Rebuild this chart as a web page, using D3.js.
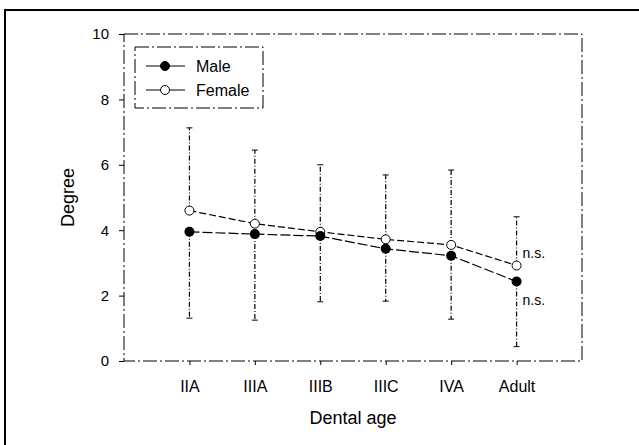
<!DOCTYPE html>
<html>
<head>
<meta charset="utf-8">
<script src="https://cdn.jsdelivr.net/npm/d3@7"></script>
<style>
  body { margin: 0; background: #fff; }
  text { font-family: "Liberation Sans", Arial, sans-serif; fill: #000; }
</style>
</head>
<body>
<div id="chart"></div>
<script>
// Data
const categories = ["IIA", "IIIA", "IIIB", "IIIC", "IVA", "Adult"];
const maleMean = [3.95, 3.88, 3.82, 3.43, 3.22, 2.43];
const maleLow = [1.31, 1.25, 1.81, 1.83, 1.28, 0.44];      // mean - SD
const femaleMean = [4.6, 4.2, 3.95, 3.72, 3.55, 2.92];
const femaleHigh = [7.13, 6.45, 6.0, 5.69, 5.84, 4.41];    // mean + SD
const yTicks = [0, 2, 4, 6, 8, 10];

let width = 639, height = 445;
let margin = { top: 34, right: 57, bottom: 84, left: 124 };
let innerW = width - margin.left - margin.right;
let innerH = height - margin.top - margin.bottom;

let svg = d3.select("#chart").append("svg")
    .attr("width", width)
    .attr("height", height);

// outer frame (runs off the right and bottom edges)
svg.append("rect")
    .attr("x", 5).attr("y", 10)
    .attr("width", 700).attr("height", 500)
    .attr("fill", "none")
    .attr("stroke", "#000")
    .attr("stroke-width", 2);

let g = svg.append("g")
    .attr("transform", `translate(${margin.left},${margin.top})`);

// scales: categories sit at 1..6 on a 0..7 axis
let x = d3.scaleLinear().domain([0, categories.length + 1]).range([0, innerW]);
let y = d3.scaleLinear().domain([0, 10]).range([innerH, 0]);

// plot frame
g.append("rect")
    .attr("width", innerW).attr("height", innerH)
    .attr("fill", "none")
    .attr("stroke", "#000")
    .attr("stroke-width", 1)
    .attr("stroke-dasharray", "14,3,2,3");

// axes
let yAxis = g.append("g")
    .call(d3.axisLeft(y).tickValues(yTicks).tickSize(5).tickPadding(10));
yAxis.select(".domain").remove();
yAxis.selectAll("text").style("font-size", "15px");

let xAxis = g.append("g")
    .attr("transform", `translate(0,${innerH})`)
    .call(d3.axisBottom(x)
        .tickValues(d3.range(1, categories.length + 1))
        .tickFormat(i => categories[i - 1])
        .tickSize(4).tickPadding(16));
xAxis.select(".domain").remove();
xAxis.selectAll("text").style("font-size", "16px");

// axis titles
g.append("text")
    .attr("x", innerW / 2)
    .attr("y", innerH + 63)
    .attr("text-anchor", "middle")
    .style("font-size", "18px")
    .text("Dental age");

g.append("text")
    .attr("transform", "rotate(-90)")
    .attr("x", -innerH / 2)
    .attr("y", -50)
    .attr("text-anchor", "middle")
    .style("font-size", "18px")
    .text("Degree");

let idx = d3.range(categories.length);

// error bars: female upward, male downward
g.selectAll(".err-f").data(idx).enter().append("line")
    .attr("class", "err-f")
    .attr("x1", i => x(i + 1)).attr("x2", i => x(i + 1))
    .attr("y1", i => y(femaleMean[i])).attr("y2", i => y(femaleHigh[i]))
    .attr("stroke", "#000").attr("stroke-width", 1.2)
    .attr("stroke-dasharray", "5,2,1,2");

g.selectAll(".cap-f").data(idx).enter().append("line")
    .attr("class", "cap-f")
    .attr("x1", i => x(i + 1) - 3).attr("x2", i => x(i + 1) + 3)
    .attr("y1", i => y(femaleHigh[i])).attr("y2", i => y(femaleHigh[i]))
    .attr("stroke", "#000").attr("stroke-width", 1);

g.selectAll(".err-m").data(idx).enter().append("line")
    .attr("class", "err-m")
    .attr("x1", i => x(i + 1)).attr("x2", i => x(i + 1))
    .attr("y1", i => y(maleMean[i])).attr("y2", i => y(maleLow[i]))
    .attr("stroke", "#000").attr("stroke-width", 1.2)
    .attr("stroke-dasharray", "5,2,1,2");

g.selectAll(".cap-m").data(idx).enter().append("line")
    .attr("class", "cap-m")
    .attr("x1", i => x(i + 1) - 3).attr("x2", i => x(i + 1) + 3)
    .attr("y1", i => y(maleLow[i])).attr("y2", i => y(maleLow[i]))
    .attr("stroke", "#000").attr("stroke-width", 1);

// connecting lines
let line = d3.line().x((d, i) => x(i + 1)).y(d => y(d));

g.append("path")
    .datum(femaleMean)
    .attr("d", line)
    .attr("fill", "none")
    .attr("stroke", "#000").attr("stroke-width", 1.2)
    .attr("stroke-dasharray", "7,3");

g.append("path")
    .datum(maleMean)
    .attr("d", line)
    .attr("fill", "none")
    .attr("stroke", "#000").attr("stroke-width", 1.2)
    .attr("stroke-dasharray", "10,3");

// markers
g.selectAll(".pt-f").data(femaleMean).enter().append("circle")
    .attr("class", "pt-f")
    .attr("cx", (d, i) => x(i + 1)).attr("cy", d => y(d))
    .attr("r", 4.5)
    .attr("fill", "#fff").attr("stroke", "#000").attr("stroke-width", 1);

g.selectAll(".pt-m").data(maleMean).enter().append("circle")
    .attr("class", "pt-m")
    .attr("cx", (d, i) => x(i + 1)).attr("cy", d => y(d))
    .attr("r", 5)
    .attr("fill", "#000");

// n.s. labels at Adult
let last = categories.length;
g.append("text")
    .attr("x", x(last) + 6)
    .attr("y", y(femaleMean[last - 1]) - 8)
    .style("font-size", "14px")
    .text("n.s.");
g.append("text")
    .attr("x", x(last) + 6)
    .attr("y", y(maleMean[last - 1]) + 23)
    .style("font-size", "14px")
    .text("n.s.");

// legend
let legend = svg.append("g").attr("transform", "translate(135,47)");
legend.append("rect")
    .attr("width", 128).attr("height", 61)
    .attr("fill", "#fff")
    .attr("stroke", "#000").attr("stroke-width", 1)
    .attr("stroke-dasharray", "14,3,2,3");

let series = [
    { name: "Male", fill: "#000" },
    { name: "Female", fill: "#fff" }
];
series.forEach((s, i) => {
    let row = legend.append("g").attr("transform", `translate(0,${19 + i * 24})`);
    row.append("line")
        .attr("x1", 11).attr("x2", 50)
        .attr("stroke", "#000").attr("stroke-width", 1.2);
    row.append("circle")
        .attr("cx", 30).attr("r", 4.5)
        .attr("fill", s.fill).attr("stroke", "#000").attr("stroke-width", 1);
    row.append("text")
        .attr("x", 61).attr("y", 6)
        .style("font-size", "16px")
        .text(s.name);
});
</script>
</body>
</html>
